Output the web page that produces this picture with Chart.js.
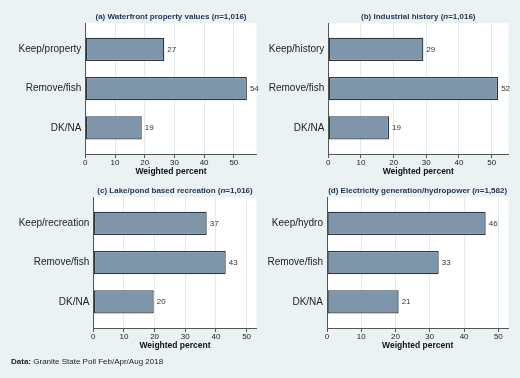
<!DOCTYPE html>
<html>
<head>
<meta charset="utf-8">
<script src="https://cdn.jsdelivr.net/npm/chart.js@4.4.1/dist/chart.umd.min.js"></script>
<style>
  body { margin: 0; background: #eaf2f3; }
  #wrap { position: relative; width: 520px; height: 378px; overflow: hidden; }
  #wrap canvas { position: absolute; left: 0; top: 0; }
  #note { position: absolute; left: 11px; top: 357px; font: 8px "Liberation Sans", Arial, sans-serif; line-height: 10px; color: #222; white-space: nowrap; }
</style>
</head>
<body>
<div id="wrap">
  <canvas id="c0" width="520" height="378"></canvas>
  <canvas id="c1" width="520" height="378"></canvas>
  <canvas id="c2" width="520" height="378"></canvas>
  <canvas id="c3" width="520" height="378"></canvas>
  <div id="note"><b>Data:</b> Granite State Poll Feb/Apr/Aug 2018</div>
</div>
<script>
// data
const catsA = ['Keep/property', 'Remove/fish', 'DK/NA'];
const valsA = [26.6, 54.4, 19.0];
const catsB = ['Keep/history', 'Remove/fish', 'DK/NA'];
const valsB = [29.1, 52.0, 18.6];
const catsC = ['Keep/recreation', 'Remove/fish', 'DK/NA'];
const valsC = [37.0, 43.2, 19.7];
const catsD = ['Keep/hydro', 'Remove/fish', 'DK/NA'];
const valsD = [46.3, 32.6, 20.9];

const titleA = ['(a) Waterfront property values (', 'n', '=1,016)'];
const titleB = ['(b) Industrial history (', 'n', '=1,016)'];
const titleC = ['(c) Lake/pond based recreation (', 'n', '=1,016)'];
const titleD = ['(d) Electricity generation/hydropower (', 'n', '=1,582)'];

const xTicks = [0, 10, 20, 30, 40, 50];
const axisTitle = 'Weighted percent';

// layout of each panel's plot area
const panels = [
  { cats: catsA, vals: valsA, title: titleA, xmax: 57.7, left: 85.3, right: 256.7, top: 23.3, bottom: 154 },
  { cats: catsB, vals: valsB, title: titleB, xmax: 55.1, left: 328.3, right: 508.3, top: 23.3, bottom: 154 },
  { cats: catsC, vals: valsC, title: titleC, xmax: 53.3, left: 93.3, right: 256.7, top: 197.3, bottom: 328 },
  { cats: catsD, vals: valsD, title: titleD, xmax: 52.9, left: 327, right: 508.3, top: 197.3, bottom: 328 },
];

const FONT = '"Liberation Sans", Arial, sans-serif';
const W = 520, H = 378, XAXIS_H = 23;

const plotBg = {
  id: 'plotBg',
  beforeDraw(chart) {
    const a = chart.chartArea, ctx = chart.ctx;
    ctx.save();
    ctx.fillStyle = '#ffffff';
    ctx.fillRect(a.left, a.top, a.right - a.left, a.bottom - a.top);
    ctx.restore();
  }
};

const extras = {
  id: 'extras',
  afterDatasetsDraw(chart, args, opts) {
    const ctx = chart.ctx;
    const meta = chart.getDatasetMeta(0);
    ctx.save();
    ctx.font = '8px ' + FONT;
    ctx.fillStyle = '#333';
    ctx.textBaseline = 'middle';
    ctx.textAlign = 'left';
    meta.data.forEach((bar, i) => {
      ctx.fillText(String(Math.round(opts.vals[i])), bar.x + 3, bar.y);
    });
    ctx.restore();
  },
  afterDraw(chart, args, opts) {
    const ctx = chart.ctx, a = chart.chartArea;
    const fonts = ['bold 8px ' + FONT, 'italic bold 8px ' + FONT, 'bold 8px ' + FONT];
    ctx.save();
    let total = 0;
    const widths = opts.title.map((t, i) => { ctx.font = fonts[i]; const w = ctx.measureText(t).width; total += w; return w; });
    let x = (a.left + a.right) / 2 - total / 2;
    ctx.fillStyle = '#1e3350';
    ctx.textBaseline = 'middle';
    ctx.textAlign = 'left';
    opts.title.forEach((t, i) => {
      ctx.font = fonts[i];
      ctx.fillText(t, x, a.top - 7);
      x += widths[i];
    });
    ctx.restore();
  }
};

panels.forEach((p, k) => {
  new Chart(document.getElementById('c' + k), {
    type: 'bar',
    data: {
      datasets: [{
        data: p.vals.map((v, i) => ({ x: v, y: i })),
        backgroundColor: '#7f95aa',
        borderColor: '#2f3842',
        borderWidth: 1.3,
        borderSkipped: false,
        barPercentage: 0.595,
        categoryPercentage: 1,
      }]
    },
    options: {
      indexAxis: 'y',
      responsive: false,
      animation: false,
      layout: {
        padding: { left: 0, top: p.top, right: W - p.right, bottom: H - p.bottom - XAXIS_H }
      },
      scales: {
        x: {
          type: 'linear',
          min: 0,
          max: p.xmax,
          afterFit: (s) => { s.height = XAXIS_H; },
          afterBuildTicks: (s) => { s.ticks = xTicks.map(v => ({ value: v })); },
          ticks: { font: { family: FONT, size: 8 }, color: '#222', padding: 0, maxRotation: 0 },
          grid: { color: '#e1ebee', tickColor: '#555', tickLength: 4 },
          border: { color: '#555', width: 1 },
          title: { display: true, text: axisTitle, font: { family: FONT, size: 8.5, weight: 'bold' }, color: '#111', padding: { top: 0, bottom: 0.5 } }
        },
        y: {
          type: 'linear',
          reverse: true,
          offset: false,
          min: -0.665,
          max: 2.665,
          afterFit: (s) => { s.width = p.left; },
          ticks: {
            stepSize: 1,
            includeBounds: false,
            font: { family: FONT, size: 10 },
            color: '#222',
            padding: 4,
            callback: (v) => p.cats[v] ?? ''
          },
          grid: { display: false, drawTicks: false, tickLength: 0 },
          border: { color: '#555', width: 1 }
        }
      },
      plugins: {
        legend: { display: false },
        tooltip: { enabled: false },
        extras: { vals: p.vals, title: p.title }
      }
    },
    plugins: [plotBg, extras]
  });
});
</script>
</body>
</html>
